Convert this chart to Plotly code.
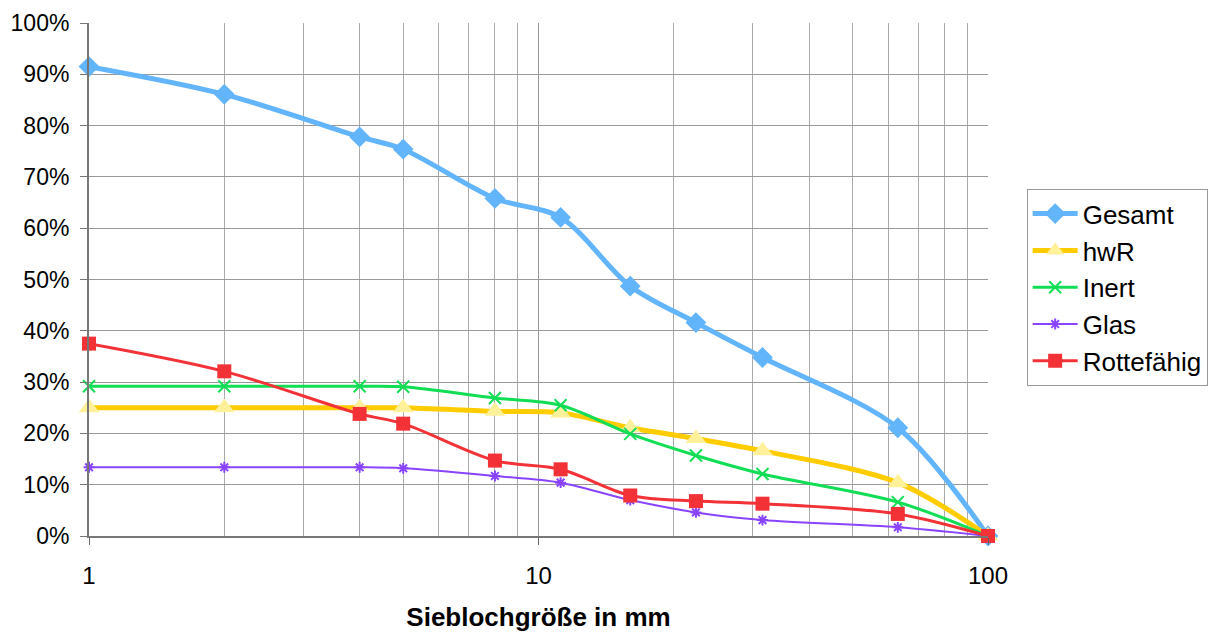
import plotly.graph_objects as go

sizes = [1, 2, 4, 5, 8, 11.2, 16, 22.4, 31.5, 63, 100]
gesamt = [91.5, 86.1, 77.8, 75.4, 65.8, 62.1, 48.7, 41.6, 34.8, 21.1, 0]
hwr = [25.0, 25.0, 25.0, 25.0, 24.3, 24.0, 21.1, 19.0, 16.6, 10.4, 0]
inert = [29.2, 29.2, 29.2, 29.1, 26.9, 25.5, 19.9, 15.7, 12.1, 6.6, 0]
glas = [13.4, 13.4, 13.4, 13.2, 11.7, 10.4, 7.0, 4.6, 3.1, 1.7, 0]
rotte = [37.5, 32.1, 23.8, 21.9, 14.7, 13.0, 7.9, 6.8, 6.3, 4.3, 0]
y_ticks = list(range(0, 101, 10))
y_labels = [f"{v}%" for v in y_ticks]

series = [
    ("Gesamt", gesamt, "#62b4fb", 5, dict(symbol="diamond", size=16, color="#62b4fb")),
    ("hwR", hwr, "#ffcc00", 5, dict(symbol="triangle-up", size=18, color="#fff09a")),
    ("Inert", inert, "#11dd55", 3, dict(symbol="x-thin", size=12, color="#11dd55", line=dict(width=2, color="#11dd55"))),
    ("Glas", glas, "#8a44ff", 2, dict(symbol="asterisk", size=9, color="#8a44ff", line=dict(width=2, color="#8a44ff"))),
    ("Rottefähig", rotte, "#f23237", 3, dict(symbol="square", size=14, color="#f23237")),
]

fig = go.Figure()
for name, vals, col, w, mk in series:
    fig.add_trace(go.Scatter(
        x=sizes, y=vals, name=name, mode="lines+markers",
        line=dict(color=col, width=w, shape="spline", smoothing=0.9),
        marker=mk, cliponaxis=False,
    ))

font = "Liberation Sans, Arial, sans-serif"
fig.update_layout(
    width=1215, height=629,
    margin=dict(l=81, r=235, t=15, b=101, autoexpand=False),
    paper_bgcolor="white", plot_bgcolor="white",
    font=dict(family=font, size=24, color="black"),
    legend=dict(
        x=1.043, y=0.676, xanchor="left", yanchor="top",
        bordercolor="#999999", borderwidth=1, bgcolor="white",
        font=dict(size=26), tracegroupgap=0, itemwidth=45,
    ),
    xaxis=dict(
        type="log", range=[0, 2], automargin=False,
        tickvals=[1, 10, 100], ticktext=["1", "10", "100"],
        ticks="outside", ticklen=7, tickcolor="#666666",
        ticklabelstandoff=10, ticklabeloverflow="allow",
        showgrid=True, gridcolor="#999999", gridwidth=1,
        minor=dict(showgrid=True, gridcolor="#aaaaaa", gridwidth=1,
                   tickvals=[2, 3, 4, 5, 6, 7, 8, 9, 20, 30, 40, 50, 60, 70, 80, 90]),
        showline=True, linecolor="#777777", linewidth=2,
        title=dict(text="<b>Sieblochgröße in mm</b>", font=dict(size=26), standoff=20),
        tickfont=dict(size=24),
        zeroline=False,
    ),
    yaxis=dict(
        range=[0, 100], tickvals=y_ticks, ticktext=y_labels, automargin=False,
        ticks="outside", ticklen=7, tickcolor="#777777", ticklabelstandoff=6,
        ticklabeloverflow="allow",
        showgrid=True, gridcolor="#999999", gridwidth=1,
        showline=True, linecolor="#777777", linewidth=2,
        mirror=False, zeroline=False, tickfont=dict(size=23),
    ),
)
fig.write_html("out.html")
